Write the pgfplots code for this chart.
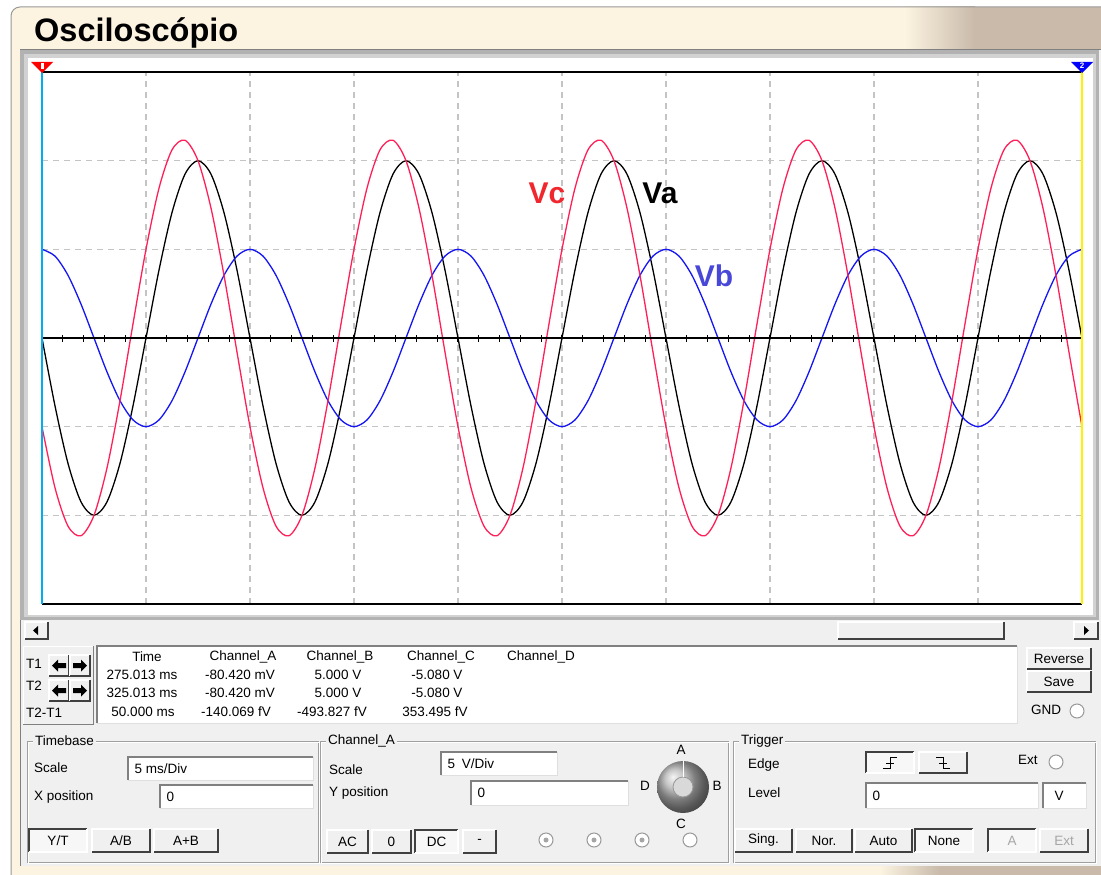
\documentclass[border=0pt]{standalone}
\usepackage{pgfplots}
\usepackage{pgfplotstable}
\pgfplotsset{compat=1.18}
\usepackage{fontspec}
\setmainfont{Liberation Sans}
\definecolor{vred}{HTML}{FF2058}
\definecolor{vblue}{HTML}{1414F5}
\definecolor{lblred}{HTML}{F0282E}
\definecolor{lblblue}{HTML}{4848D8}
\definecolor{panel}{HTML}{F0F0F0}
\definecolor{cream}{HTML}{FCF3E1}
\definecolor{brownish}{HTML}{C9BAAA}
\definecolor{gridgray}{HTML}{C4C4C4}

\pgfplotstableread{
t a b c
0 0 5 -5
0.625 -3.827 4.619 -8.446
1.25 -7.071 3.536 -10.607
1.875 -9.239 1.913 -11.152
2.5 -10 0 -10
3.125 -9.239 -1.913 -7.326
3.75 -7.071 -3.536 -3.536
4.375 -3.827 -4.619 0.793
5 0 -5 5
5.625 3.827 -4.619 8.446
6.25 7.071 -3.536 10.607
6.875 9.239 -1.913 11.152
7.5 10 0 10
8.125 9.239 1.913 7.326
8.75 7.071 3.536 3.536
9.375 3.827 4.619 -0.793
10 0 5 -5
10.625 -3.827 4.619 -8.446
11.25 -7.071 3.536 -10.607
11.875 -9.239 1.913 -11.152
12.5 -10 0 -10
13.125 -9.239 -1.913 -7.326
13.75 -7.071 -3.536 -3.536
14.375 -3.827 -4.619 0.793
15 0 -5 5
15.625 3.827 -4.619 8.446
16.25 7.071 -3.536 10.607
16.875 9.239 -1.913 11.152
17.5 10 0 10
18.125 9.239 1.913 7.326
18.75 7.071 3.536 3.536
19.375 3.827 4.619 -0.793
20 0 5 -5
20.625 -3.827 4.619 -8.446
21.25 -7.071 3.536 -10.607
21.875 -9.239 1.913 -11.152
22.5 -10 0 -10
23.125 -9.239 -1.913 -7.326
23.75 -7.071 -3.536 -3.536
24.375 -3.827 -4.619 0.793
25 0 -5 5
25.625 3.827 -4.619 8.446
26.25 7.071 -3.536 10.607
26.875 9.239 -1.913 11.152
27.5 10 0 10
28.125 9.239 1.913 7.326
28.75 7.071 3.536 3.536
29.375 3.827 4.619 -0.793
30 0 5 -5
30.625 -3.827 4.619 -8.446
31.25 -7.071 3.536 -10.607
31.875 -9.239 1.913 -11.152
32.5 -10 0 -10
33.125 -9.239 -1.913 -7.326
33.75 -7.071 -3.536 -3.536
34.375 -3.827 -4.619 0.793
35 0 -5 5
35.625 3.827 -4.619 8.446
36.25 7.071 -3.536 10.607
36.875 9.239 -1.913 11.152
37.5 10 0 10
38.125 9.239 1.913 7.326
38.75 7.071 3.536 3.536
39.375 3.827 4.619 -0.793
40 0 5 -5
40.625 -3.827 4.619 -8.446
41.25 -7.071 3.536 -10.607
41.875 -9.239 1.913 -11.152
42.5 -10 0 -10
43.125 -9.239 -1.913 -7.326
43.75 -7.071 -3.536 -3.536
44.375 -3.827 -4.619 0.793
45 0 -5 5
45.625 3.827 -4.619 8.446
46.25 7.071 -3.536 10.607
46.875 9.239 -1.913 11.152
47.5 10 0 10
48.125 9.239 1.913 7.326
48.75 7.071 3.536 3.536
49.375 3.827 4.619 -0.793
50 0 5 -5
}\scopedata

\newcommand\ui{\fontsize{13.5}{15}\selectfont}
\newcommand\btn[5]{%
  \fill[panel] (#1,#2) rectangle (#3,#4);
  \draw[white,line width=1.2pt] (#1,#4) -- (#1,#2) -- (#3,#2);
  \draw[darkgray,line width=1.2pt] (#1,#4) -- (#3,#4) -- (#3,#2);
  \node[font=\ui] at ({(#1+#3)/2},{(#2+#4)/2}) {#5};}
\newcommand\pbtn[5]{%
  \fill[gray!6] (#1,#2) rectangle (#3,#4);
  \draw[darkgray,line width=1.2pt] (#1,#4) -- (#1,#2) -- (#3,#2);
  \draw[white,line width=1.2pt] (#1,#4) -- (#3,#4) -- (#3,#2);
  \node[font=\ui] at ({(#1+#3)/2},{(#2+#4)/2}) {#5};}
\newcommand\field[5]{%
  \fill[white] (#1,#2) rectangle (#3,#4);
  \draw[gray,line width=1.6pt] (#1,#4) -- (#1,#2) -- (#3,#2);
  \draw[gray!25,line width=1pt] (#1,#4) -- (#3,#4) -- (#3,#2);
  \node[font=\ui,anchor=west] at ({#1+3},{(#2+#4)/2}) {#5};}
\newcommand\group[5]{%
  \draw[gray!75,line width=1pt] (#1,#2) rectangle (#3,#4);
  \draw[white,line width=1pt] ({#1+1},{#2+1}) rectangle ({#3+1},{#4+1});
  \node[font=\ui,fill=panel,anchor=west,inner sep=2pt] at ({#1+6},#2) {#5};}
\newcommand\radio[3]{%
  \fill[white] (#1,#2) circle (7);
  \draw[gray!80,line width=1pt] (#1,#2) circle (7);
  \ifnum#3=1 \fill[gray!70] (#1,#2) circle (2.5);\fi}
\newcommand\larrow[2]{\fill[black] ({#1-7},#2) -- ({#1-1},{#2-6}) -- ({#1-1},{#2-2.5}) -- ({#1+7},{#2-2.5}) -- ({#1+7},{#2+2.5}) -- ({#1-1},{#2+2.5}) -- ({#1-1},{#2+6}) -- cycle;}
\newcommand\rarrow[2]{\fill[black] ({#1+7},#2) -- ({#1+1},{#2-6}) -- ({#1+1},{#2-2.5}) -- ({#1-7},{#2-2.5}) -- ({#1-7},{#2+2.5}) -- ({#1+1},{#2+2.5}) -- ({#1+1},{#2+6}) -- cycle;}

\begin{document}
\begin{tikzpicture}
\useasboundingbox (0pt,0pt) rectangle (1101pt,-875pt);
\begin{scope}[x=1pt,y=-1pt]
  \fill[white] (0,0) rectangle (1101,875);
  \fill[cream,rounded corners=9pt] (11,7) rectangle (1130,900);
  \shade[left color=cream,right color=brownish] (905,7) rectangle (975,50);
  \fill[brownish] (975,7) rectangle (1101,50);
  \shade[left color=cream,right color=brownish] (880,866) rectangle (940,875);
  \fill[brownish] (940,866) rectangle (1101,875);
  \draw[gray!80,line width=1pt,rounded corners=9pt] (11,900) -- (11,7) -- (1130,7);
  \node[anchor=base west,font=\bfseries\fontsize{32.5}{36}\selectfont,inner sep=0pt] at (34,42) {Osciloscópio};
  % content panel
  \fill[panel] (20,50) rectangle (1101,866);
  \draw[gray,line width=1pt] (20,866) -- (20,50) -- (1101,50);
  % screen frame
  \fill[gray!60] (20,50) rectangle (1099,620);
  \fill[gray!35] (24,54) rectangle (1096,617);
  \fill[white] (28,58) rectangle (1093,615);
  % scrollbar
  \fill[gray!12] (23,621) rectangle (1099,639);
  \btn{25}{622}{48}{639}{}
  \btn{1074}{622}{1098}{639}{}
  \btn{838}{622}{1004}{639}{}
  \fill[black] (33,630.5) -- (38,626) -- (38,635) -- cycle;
  \fill[black] (1089,630.5) -- (1084,626) -- (1084,635) -- cycle;
\end{scope}

\begin{axis}[at={(42pt,-604pt)}, anchor=south west, scale only axis,
  width=1040pt, height=532pt,
  xmin=0, xmax=50, ymin=-15, ymax=15,
  xtick={5,10,...,45}, ytick={-10,-5,5,10},
  xticklabels={}, yticklabels={},
  tick style={draw=none},
  grid=major,
  major grid style={draw=gridgray, line width=1.2pt, dash pattern=on 6pt off 5pt},
  axis line style={draw=none}, clip=false]
  \draw[black,line width=1.2pt] (axis cs:0,15) -- (axis cs:50,15);
  \draw[black,line width=1.2pt] (axis cs:0,-15) -- (axis cs:50,-15);
  \addplot[black, line width=1.3pt, smooth] table[x=t,y=a] {\scopedata};
  \addplot[vblue, line width=1.3pt, smooth] table[x=t,y=b] {\scopedata};
  \addplot[vred, line width=1.3pt, smooth] table[x=t,y=c] {\scopedata};
  \draw[black,line width=1.3pt] (axis cs:0,0) -- (axis cs:50,0);
  \pgfplotsinvokeforeach{1,...,49}{\draw[black,line width=1pt] (axis cs:#1,0) ++(0pt,-3.5pt) -- ++(0pt,7pt);}
\end{axis}

\begin{scope}[x=1pt,y=-1pt]
  % cursors
  \draw[cyan,line width=2pt] (42,66) -- (42,604);
  \draw[yellow,line width=2pt] (1082,66) -- (1082,604);
  \fill[red] (31,62) -- (53,62) -- (42,73) -- cycle;
  \fill[white] (40.5,63.5) rectangle (43.5,69);
  \fill[blue] (1071,62) -- (1093,62) -- (1082,73) -- cycle;
  \node[white,font=\bfseries\fontsize{8}{8}\selectfont,inner sep=0pt] at (1082,66) {2};
  % labels
  \node[font=\bfseries\fontsize{30}{30}\selectfont,text=lblred] at (547,193) {Vc};
  \node[font=\bfseries\fontsize{30}{30}\selectfont,text=black] at (660,193) {Va};
  \node[font=\bfseries\fontsize{30}{30}\selectfont,text=lblblue] at (714,276) {Vb};

  % cursor readout
  \draw[white,line width=1pt] (23,724) -- (23,646) -- (93,646);
  \draw[gray,line width=1pt] (23,724) -- (93,724) -- (93,646);
  \node[font=\ui,anchor=west,inner sep=0pt] at (26,664) {T1};
  \node[font=\ui,anchor=west,inner sep=0pt] at (26,686) {T2};
  \node[font=\ui,anchor=west,inner sep=0pt] at (26,713) {T2-T1};
  \btn{49}{655}{69}{676}{}\btn{70}{655}{90}{676}{}
  \btn{49}{680}{69}{701}{}\btn{70}{680}{90}{701}{}
  \larrow{59}{665.5}\rarrow{80}{665.5}
  \larrow{59}{690.5}\rarrow{80}{690.5}
  \fill[white] (97,646) rectangle (1017,723);
  \draw[gray,line width=1.6pt] (97,723) -- (97,646) -- (1017,646);
  \draw[gray!25,line width=1pt] (97,723) -- (1017,723) -- (1017,646);
  \node[font=\ui] at (147,657) {Time};
  \node[font=\ui] at (243,657) {Channel\_A};
  \node[font=\ui] at (340,657) {Channel\_B};
  \node[font=\ui] at (441,657) {Channel\_C};
  \node[font=\ui] at (541,657) {Channel\_D};
  \node[font=\ui] at (142,675) {275.013 ms};
  \node[font=\ui] at (240,675) {-80.420 mV};
  \node[font=\ui] at (338,675) {5.000 V};
  \node[font=\ui] at (437,675) {-5.080 V};
  \node[font=\ui] at (142,693) {325.013 ms};
  \node[font=\ui] at (240,693) {-80.420 mV};
  \node[font=\ui] at (338,693) {5.000 V};
  \node[font=\ui] at (437,693) {-5.080 V};
  \node[font=\ui] at (143,712) {50.000 ms};
  \node[font=\ui] at (236,712) {-140.069 fV};
  \node[font=\ui] at (332,712) {-493.827 fV};
  \node[font=\ui] at (435,712) {353.495 fV};
  \btn{1027}{648}{1091}{669}{Reverse}
  \btn{1027}{671}{1091}{692}{Save}
  \node[font=\ui,anchor=west,inner sep=0pt] at (1031,710) {GND};
  \radio{1077}{711}{0}

  % Timebase
  \group{27}{741}{318}{862}{Timebase}
  \node[font=\ui,anchor=west,inner sep=0pt] at (34,768) {Scale};
  \field{128}{757}{313}{780}{5 ms/Div}
  \node[font=\ui,anchor=west,inner sep=0pt] at (34,797) {X position};
  \field{160}{785}{313}{808}{0}
  \pbtn{29}{829}{87}{852}{Y/T}
  \btn{92}{829}{150}{852}{A/B}
  \btn{154}{829}{218}{852}{A+B}

  % Channel A
  \group{320}{741}{728}{862}{Channel\_A}
  \node[font=\ui,anchor=west,inner sep=0pt] at (329,770) {Scale};
  \field{441}{752}{557}{775}{5\enspace V/Div}
  \node[font=\ui,anchor=west,inner sep=0pt] at (329,793) {Y position};
  \field{471}{781}{628}{805}{0}
  \shade[ball color=gray!60] (683,787) circle (26);
  \fill[gray!30] (683,787) circle (10);
  \draw[gray!80,line width=0.8pt] (683,787) circle (10);
  \draw[white,line width=1pt] (683,761) -- (683,777);
  \node[font=\ui] at (681,750) {A};
  \node[font=\ui] at (645,786) {D};
  \node[font=\ui] at (717,786) {B};
  \node[font=\ui] at (681,824) {C};
  \btn{327}{830}{368}{853}{AC}
  \btn{372}{830}{411}{853}{0}
  \pbtn{415}{830}{458}{853}{DC}
  \btn{463}{830}{496}{853}{-}
  \radio{546}{840}{1}\radio{594}{840}{1}\radio{642}{840}{1}\radio{690}{840}{0}

  % Trigger
  \group{733}{741}{1095}{862}{Trigger}
  \node[font=\ui,anchor=west,inner sep=0pt] at (748,765) {Edge};
  \pbtn{866}{752}{914}{773}{}
  \btn{919}{752}{967}{773}{}
  \draw[black,line width=1pt] (883,768) -- (890,768) -- (890,757) -- (897,757);
  \draw[black,line width=1pt] (886,763) -- (894,763);
  \draw[black,line width=1pt] (936,757) -- (943,757) -- (943,768) -- (950,768);
  \draw[black,line width=1pt] (939,763) -- (947,763);
  \node[font=\ui,anchor=west,inner sep=0pt] at (1018,760) {Ext};
  \radio{1056}{762}{0}
  \node[font=\ui,anchor=west,inner sep=0pt] at (748,793) {Level};
  \field{866}{783}{1038}{808}{0}
  \field{1043}{783}{1086}{808}{\hspace{5pt}V}
  \btn{735}{829}{792}{852}{Sing.}
  \btn{796}{829}{852}{852}{Nor.}
  \btn{855}{829}{912}{852}{Auto}
  \pbtn{915}{829}{973}{852}{None}
  \pbtn{988}{829}{1036}{852}{\textcolor{gray!70}{A}}
  \btn{1040}{829}{1088}{852}{\textcolor{gray!70}{Ext}}
\end{scope}
\end{tikzpicture}
\end{document}
